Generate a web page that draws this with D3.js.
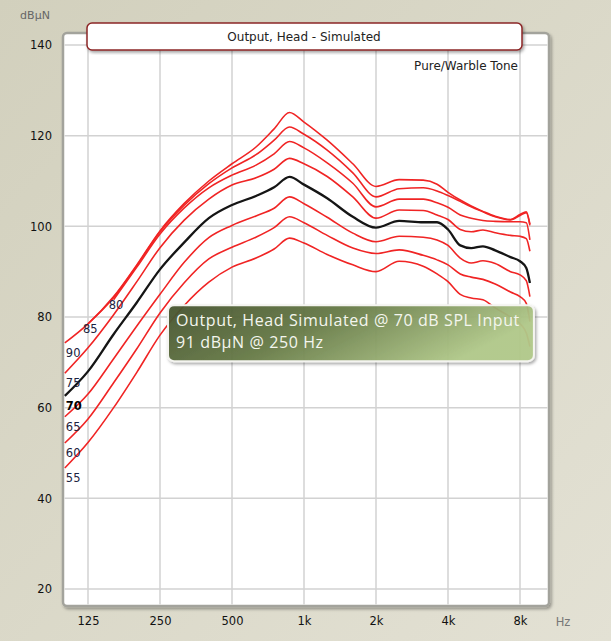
<!DOCTYPE html>
<html>
<head>
<meta charset="utf-8">
<script src="https://cdn.jsdelivr.net/npm/d3@7"></script>
<style>
  html, body { margin: 0; padding: 0; background: #d9d7c6; }
  svg { display: block; }
</style>
</head>
<body>
<div id="chart"></div>
<script>
// frequencies (Hz) every curve is read at
const freqs = [100, 125, 160, 200, 250, 315, 400, 500, 630, 750, 870, 1000, 1250, 1600, 2000, 2500, 3150, 3600, 4000, 4500, 5000, 5600, 6300, 7300, 8000, 8500, 8800]

// input levels (dB SPL), one output curve each
const levels = [90, 85, 80, 75, 70, 65, 60, 55]

// output (dBuN) per input level, null where the curve is not drawn
const out90 = [74.3, 78.5, 84.5, 91.5, 99, 105, 110, 113.8, 117.5, 121.5, 125.1, 123, 119, 113.8, 108.8, 110.3, 110.2, 109.3, 107.5, 105.8, 104.5, 103.3, 102.2, 101.5, 102.6, 103.2, 100.5]
const out85 = [null, 78.5, 84.3, 91.3, 98.8, 104.6, 109.4, 112.9, 115.8, 119, 121.9, 120.3, 116.8, 111.8, 106.5, 108.3, 108.5, 107.8, 106.8, 105.5, 104.3, 103.2, 102.1, 101.4, 102.4, 103, 100.2]
const out80 = [null, null, 83.8, 91, 98.3, 104, 108.5, 111.3, 113.5, 116, 118.7, 117.3, 114, 109.5, 104.3, 106, 106, 105.2, 104.2, 102.5, 101.8, 101.3, 101.1, 101, 101, 100.8, 97]
const out75 = [67.6, 73.2, 80.5, 87.8, 95.3, 101.3, 106, 109.1, 110.7, 112.6, 115, 113.8, 111, 106.5, 101.8, 103.6, 103.5, 102.5, 101.5, 99.3, 98.8, 99.2, 98.6, 98, 97.8, 97.3, 94.5]
const out70 = [62.6, 68, 76.2, 83.2, 90.5, 96.4, 101.8, 104.7, 106.7, 108.6, 110.9, 109.2, 106.2, 102.1, 99.7, 101.2, 100.9, 100.9, 99.3, 95.8, 95.2, 95.6, 94.7, 93.2, 92.3, 90.8, 87.5]
const out65 = [58, 63, 70.8, 78, 85, 92, 97.5, 100.2, 102.3, 104, 106.5, 105, 102, 98.5, 96.6, 97.8, 97.6, 97, 95.8, 93, 91.9, 92.4, 91.8, 90, 89.3, 88, 84.5]
const out60 = [52.2, 57.5, 65.5, 73, 80.9, 87.5, 92.8, 95.4, 97.6, 99.7, 102.1, 100.8, 98, 95.2, 94, 94.8, 93.6, 92.6, 91.5, 89.5, 88.8, 88.3, 87.3, 85.5, 84.5, 83, 79]
const out55 = [46.7, 52.3, 60, 67.8, 76, 82.5, 87.7, 91, 93, 95, 97.4, 96.3, 93.8, 91.5, 90, 92.3, 91.2, 89.5, 87.8, 85, 84.2, 83.8, 82, 80, 78.5, 76.5, 73.5]
const outputs = [out90, out85, out80, out75, out70, out65, out60, out55]

// axis ticks
const xTicks = [125, 250, 500, 1000, 2000, 4000, 8000]
const xTickLabels = ["125", "250", "500", "1k", "2k", "4k", "8k"]
const yTicks = [20, 40, 60, 80, 100, 120, 140]

// texts
const titleText = "Output, Head - Simulated"
const subtitleText = "Pure/Warble Tone"
const yUnit = "dBµN"
const xUnit = "Hz"

// highlighted point shown in the tooltip
const tipLevel = 70
const tipFreq = 250
const tipValue = 91

function drawChart() {
    const width = 611
    const height = 641
    const frame = {left: 63, right: 549, top: 33, bottom: 606}

    const svg = d3.select("#chart").append("svg")
                  .attr("width", width)
                  .attr("height", height)
    const defs = svg.append("defs")

    // background
    const bg = defs.append("linearGradient").attr("id", "bg")
                   .attr("x1", 0).attr("y1", 0).attr("x2", 1).attr("y2", 1)
    bg.append("stop").attr("offset", "0%").attr("stop-color", "#d2d0bd")
    bg.append("stop").attr("offset", "100%").attr("stop-color", "#e3e1d4")
    svg.append("rect").attr("width", width).attr("height", height).attr("fill", "url(#bg)")

    const shadow = defs.append("filter").attr("id", "shadow")
                       .attr("x", "-5%").attr("y", "-5%").attr("width", "115%").attr("height", "120%")
    shadow.append("feDropShadow").attr("dx", 1.5).attr("dy", 2).attr("stdDeviation", 1.5)
          .attr("flood-color", "#000").attr("flood-opacity", 0.35)

    // scales
    const xScale = d3.scaleLog().domain([125, 8000]).range([88, 520])
    const yScale = d3.scaleLinear().domain([20, 140]).range([589, 45])

    // plot frame
    svg.append("rect")
       .attr("x", frame.left).attr("y", frame.top)
       .attr("width", frame.right - frame.left).attr("height", frame.bottom - frame.top)
       .attr("rx", 4)
       .attr("fill", "#fff")
       .attr("stroke", "#a3a39c")
       .attr("stroke-width", 2.5)
       .attr("filter", "url(#shadow)")

    // grid
    const grid = svg.append("g").attr("stroke", "#d2d2d2").attr("stroke-width", 1.5)
    grid.selectAll(".vgrid").data(xTicks).join("line")
        .attr("x1", d => xScale(d)).attr("x2", d => xScale(d))
        .attr("y1", frame.top + 1.5).attr("y2", frame.bottom - 1.5)
    grid.selectAll(".hgrid").data(yTicks).join("line")
        .attr("y1", d => yScale(d)).attr("y2", d => yScale(d))
        .attr("x1", frame.left + 1.5).attr("x2", frame.right - 1.5)

    // axes
    const yAxis = d3.axisLeft(yScale).tickValues(yTicks).tickSize(0).tickPadding(11)
    svg.append("g")
       .attr("transform", `translate(${frame.left}, 0)`)
       .call(yAxis)
       .call(g => g.select(".domain").remove())
       .attr("font-family", "DejaVu Sans")
       .attr("font-size", "11.5px")
       .selectAll("text").attr("fill", "#111")
    const xAxis = d3.axisBottom(xScale).tickValues(xTicks)
                    .tickFormat((d, i) => xTickLabels[i]).tickSize(0).tickPadding(11)
    svg.append("g")
       .attr("transform", `translate(0, ${frame.bottom})`)
       .call(xAxis)
       .call(g => g.select(".domain").remove())
       .attr("font-family", "DejaVu Sans")
       .attr("font-size", "11.5px")
       .selectAll("text").attr("fill", "#111")

    svg.append("text").attr("x", 35).attr("y", 19).attr("text-anchor", "middle")
       .attr("font-family", "DejaVu Sans").attr("font-size", "11px").attr("fill", "#666")
       .text(yUnit)
    svg.append("text").attr("x", 563).attr("y", 626).attr("text-anchor", "middle")
       .attr("font-family", "DejaVu Sans").attr("font-size", "11.5px").attr("fill", "#777")
       .text(xUnit)

    // curves
    const lineGenerator = d3.line()
                            .defined(d => d[1] != null)
                            .x(d => xScale(d[0]))
                            .y(d => yScale(d[1]))
                            .curve(d3.curveMonotoneX)
    const series = levels.map((lvl, i) => ({
        level: lvl,
        points: freqs.map((f, j) => [f, outputs[i][j]])
    }))
    // red first, the highlighted level on top
    const ordered = series.filter(s => s.level !== tipLevel).concat(series.filter(s => s.level === tipLevel))
    svg.append("g").selectAll("path").data(ordered).join("path")
       .attr("d", s => lineGenerator(s.points))
       .attr("fill", "none")
       .attr("stroke", s => s.level === tipLevel ? "#151515" : "#f02424")
       .attr("stroke-width", s => s.level === tipLevel ? 2.3 : 1.6)
       .attr("stroke-linejoin", "round")

    // level labels at the start of each curve
    svg.append("g").selectAll("text").data(series).join("text")
       .attr("x", s => {
           const p = s.points.find(d => d[1] != null)
           return xScale(p[0]) + (p[0] > freqs[0] ? -5 : 1)
       })
       .attr("y", s => {
           const p = s.points.find(d => d[1] != null)
           return yScale(p[1]) + (p[0] > freqs[0] ? 9 : 14)
       })
       .attr("font-family", "DejaVu Sans")
       .attr("font-size", "11.5px")
       .attr("font-weight", s => s.level === tipLevel ? "bold" : "normal")
       .attr("fill", s => s.level === tipLevel ? "#000" : "#1c2340")
       .text(s => s.level)

    // title box
    svg.append("rect")
       .attr("x", 87).attr("y", 23).attr("width", 435).attr("height", 27)
       .attr("rx", 5)
       .attr("fill", "#fff")
       .attr("stroke", "#8c2626")
       .attr("stroke-width", 1.5)
       .attr("filter", "url(#shadow)")
    svg.append("text").attr("x", 304).attr("y", 41).attr("text-anchor", "middle")
       .attr("font-family", "DejaVu Sans").attr("font-size", "12px").attr("fill", "#222")
       .text(titleText)
    svg.append("text").attr("x", 518).attr("y", 70).attr("text-anchor", "end")
       .attr("font-family", "DejaVu Sans").attr("font-size", "12px").attr("fill", "#222")
       .text(subtitleText)

    // tooltip
    const tipGrad = defs.append("linearGradient").attr("id", "tipGrad")
                        .attr("x1", 0).attr("y1", 0).attr("x2", 1).attr("y2", 0.3)
    tipGrad.append("stop").attr("offset", "0%").attr("stop-color", "#46532f")
    tipGrad.append("stop").attr("offset", "45%").attr("stop-color", "#667a46")
    tipGrad.append("stop").attr("offset", "100%").attr("stop-color", "#b2ca8a")

    const tipX = xScale(tipFreq) + 8
    const tipY = yScale(tipValue) + 38
    const tip = svg.append("g").attr("transform", `translate(${tipX}, ${tipY})`)
    const box = tip.append("rect")
                   .attr("rx", 6)
                   .attr("fill", "url(#tipGrad)")
                   .attr("fill-opacity", 0.93)
                   .attr("stroke", "#f4f4f0")
                   .attr("stroke-width", 2)
                   .attr("filter", "url(#shadow)")
    const tipText = tip.append("text")
                       .attr("font-family", "Open Sans")
                       .attr("font-size", "16px")
                       .attr("letter-spacing", "0.6px")
                       .attr("fill", "#f4f6ee")
    tipText.append("tspan").attr("x", 8).attr("y", 21)
           .text(`Output, Head Simulated @ ${tipLevel} dB SPL Input`)
    tipText.append("tspan").attr("x", 8).attr("y", 43)
           .text(`${tipValue} dBµN @ ${tipFreq} Hz`)
    const textWidth = tipText.node().getBBox().width
    box.attr("width", textWidth + 22).attr("height", 56)
}

drawChart()
</script>
</body>
</html>
